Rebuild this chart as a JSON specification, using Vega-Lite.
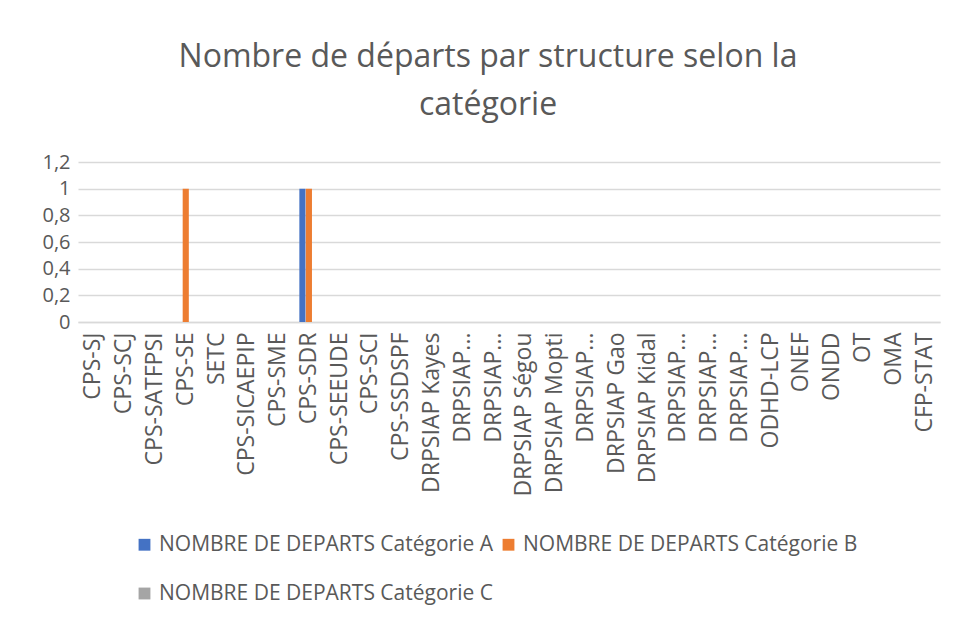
{
  "$schema": "https://vega.github.io/schema/vega-lite/v6.json",
  "width": 862,
  "height": 160,
  "autosize": {"type": "none"},
  "padding": {"left": 78, "top": 162, "right": 16, "bottom": 303},
  "background": "white",
  "config": {
    "font": "Open Sans",
    "view": {"stroke": null}
  },
  "title": {
    "text": ["Nombre de départs par structure selon la", "catégorie"],
    "font": "Open Sans",
    "fontSize": 32,
    "fontWeight": "normal",
    "color": "#595959",
    "lineHeight": 48,
    "anchor": "middle",
    "dx": -21,
    "offset": 30
  },
  "data": {
    "values": [
      {"s": "CPS-SJ", "cat": "NOMBRE DE DEPARTS Catégorie A", "v": 0},
      {"s": "CPS-SJ", "cat": "NOMBRE DE DEPARTS Catégorie B", "v": 0},
      {"s": "CPS-SJ", "cat": "NOMBRE DE DEPARTS Catégorie C", "v": 0},
      {"s": "CPS-SCJ", "cat": "NOMBRE DE DEPARTS Catégorie A", "v": 0},
      {"s": "CPS-SCJ", "cat": "NOMBRE DE DEPARTS Catégorie B", "v": 0},
      {"s": "CPS-SCJ", "cat": "NOMBRE DE DEPARTS Catégorie C", "v": 0},
      {"s": "CPS-SATFPSI", "cat": "NOMBRE DE DEPARTS Catégorie A", "v": 0},
      {"s": "CPS-SATFPSI", "cat": "NOMBRE DE DEPARTS Catégorie B", "v": 0},
      {"s": "CPS-SATFPSI", "cat": "NOMBRE DE DEPARTS Catégorie C", "v": 0},
      {"s": "CPS-SE", "cat": "NOMBRE DE DEPARTS Catégorie A", "v": 0},
      {"s": "CPS-SE", "cat": "NOMBRE DE DEPARTS Catégorie B", "v": 1},
      {"s": "CPS-SE", "cat": "NOMBRE DE DEPARTS Catégorie C", "v": 0},
      {"s": "SETC", "cat": "NOMBRE DE DEPARTS Catégorie A", "v": 0},
      {"s": "SETC", "cat": "NOMBRE DE DEPARTS Catégorie B", "v": 0},
      {"s": "SETC", "cat": "NOMBRE DE DEPARTS Catégorie C", "v": 0},
      {"s": "CPS-SICAEPIP", "cat": "NOMBRE DE DEPARTS Catégorie A", "v": 0},
      {"s": "CPS-SICAEPIP", "cat": "NOMBRE DE DEPARTS Catégorie B", "v": 0},
      {"s": "CPS-SICAEPIP", "cat": "NOMBRE DE DEPARTS Catégorie C", "v": 0},
      {"s": "CPS-SME", "cat": "NOMBRE DE DEPARTS Catégorie A", "v": 0},
      {"s": "CPS-SME", "cat": "NOMBRE DE DEPARTS Catégorie B", "v": 0},
      {"s": "CPS-SME", "cat": "NOMBRE DE DEPARTS Catégorie C", "v": 0},
      {"s": "CPS-SDR", "cat": "NOMBRE DE DEPARTS Catégorie A", "v": 1},
      {"s": "CPS-SDR", "cat": "NOMBRE DE DEPARTS Catégorie B", "v": 1},
      {"s": "CPS-SDR", "cat": "NOMBRE DE DEPARTS Catégorie C", "v": 0},
      {"s": "CPS-SEEUDE", "cat": "NOMBRE DE DEPARTS Catégorie A", "v": 0},
      {"s": "CPS-SEEUDE", "cat": "NOMBRE DE DEPARTS Catégorie B", "v": 0},
      {"s": "CPS-SEEUDE", "cat": "NOMBRE DE DEPARTS Catégorie C", "v": 0},
      {"s": "CPS-SCI", "cat": "NOMBRE DE DEPARTS Catégorie A", "v": 0},
      {"s": "CPS-SCI", "cat": "NOMBRE DE DEPARTS Catégorie B", "v": 0},
      {"s": "CPS-SCI", "cat": "NOMBRE DE DEPARTS Catégorie C", "v": 0},
      {"s": "CPS-SSDSPF", "cat": "NOMBRE DE DEPARTS Catégorie A", "v": 0},
      {"s": "CPS-SSDSPF", "cat": "NOMBRE DE DEPARTS Catégorie B", "v": 0},
      {"s": "CPS-SSDSPF", "cat": "NOMBRE DE DEPARTS Catégorie C", "v": 0},
      {"s": "DRPSIAP Kayes", "cat": "NOMBRE DE DEPARTS Catégorie A", "v": 0},
      {"s": "DRPSIAP Kayes", "cat": "NOMBRE DE DEPARTS Catégorie B", "v": 0},
      {"s": "DRPSIAP Kayes", "cat": "NOMBRE DE DEPARTS Catégorie C", "v": 0},
      {"s": "DRPSIAP Koulikoro", "cat": "NOMBRE DE DEPARTS Catégorie A", "v": 0},
      {"s": "DRPSIAP Koulikoro", "cat": "NOMBRE DE DEPARTS Catégorie B", "v": 0},
      {"s": "DRPSIAP Koulikoro", "cat": "NOMBRE DE DEPARTS Catégorie C", "v": 0},
      {"s": "DRPSIAP Sikasso", "cat": "NOMBRE DE DEPARTS Catégorie A", "v": 0},
      {"s": "DRPSIAP Sikasso", "cat": "NOMBRE DE DEPARTS Catégorie B", "v": 0},
      {"s": "DRPSIAP Sikasso", "cat": "NOMBRE DE DEPARTS Catégorie C", "v": 0},
      {"s": "DRPSIAP Ségou", "cat": "NOMBRE DE DEPARTS Catégorie A", "v": 0},
      {"s": "DRPSIAP Ségou", "cat": "NOMBRE DE DEPARTS Catégorie B", "v": 0},
      {"s": "DRPSIAP Ségou", "cat": "NOMBRE DE DEPARTS Catégorie C", "v": 0},
      {"s": "DRPSIAP Mopti", "cat": "NOMBRE DE DEPARTS Catégorie A", "v": 0},
      {"s": "DRPSIAP Mopti", "cat": "NOMBRE DE DEPARTS Catégorie B", "v": 0},
      {"s": "DRPSIAP Mopti", "cat": "NOMBRE DE DEPARTS Catégorie C", "v": 0},
      {"s": "DRPSIAP Tombouctou", "cat": "NOMBRE DE DEPARTS Catégorie A", "v": 0},
      {"s": "DRPSIAP Tombouctou", "cat": "NOMBRE DE DEPARTS Catégorie B", "v": 0},
      {"s": "DRPSIAP Tombouctou", "cat": "NOMBRE DE DEPARTS Catégorie C", "v": 0},
      {"s": "DRPSIAP Gao", "cat": "NOMBRE DE DEPARTS Catégorie A", "v": 0},
      {"s": "DRPSIAP Gao", "cat": "NOMBRE DE DEPARTS Catégorie B", "v": 0},
      {"s": "DRPSIAP Gao", "cat": "NOMBRE DE DEPARTS Catégorie C", "v": 0},
      {"s": "DRPSIAP Kidal", "cat": "NOMBRE DE DEPARTS Catégorie A", "v": 0},
      {"s": "DRPSIAP Kidal", "cat": "NOMBRE DE DEPARTS Catégorie B", "v": 0},
      {"s": "DRPSIAP Kidal", "cat": "NOMBRE DE DEPARTS Catégorie C", "v": 0},
      {"s": "DRPSIAP Taoudéni", "cat": "NOMBRE DE DEPARTS Catégorie A", "v": 0},
      {"s": "DRPSIAP Taoudéni", "cat": "NOMBRE DE DEPARTS Catégorie B", "v": 0},
      {"s": "DRPSIAP Taoudéni", "cat": "NOMBRE DE DEPARTS Catégorie C", "v": 0},
      {"s": "DRPSIAP Ménaka", "cat": "NOMBRE DE DEPARTS Catégorie A", "v": 0},
      {"s": "DRPSIAP Ménaka", "cat": "NOMBRE DE DEPARTS Catégorie B", "v": 0},
      {"s": "DRPSIAP Ménaka", "cat": "NOMBRE DE DEPARTS Catégorie C", "v": 0},
      {"s": "DRPSIAP Bamako", "cat": "NOMBRE DE DEPARTS Catégorie A", "v": 0},
      {"s": "DRPSIAP Bamako", "cat": "NOMBRE DE DEPARTS Catégorie B", "v": 0},
      {"s": "DRPSIAP Bamako", "cat": "NOMBRE DE DEPARTS Catégorie C", "v": 0},
      {"s": "ODHD-LCP", "cat": "NOMBRE DE DEPARTS Catégorie A", "v": 0},
      {"s": "ODHD-LCP", "cat": "NOMBRE DE DEPARTS Catégorie B", "v": 0},
      {"s": "ODHD-LCP", "cat": "NOMBRE DE DEPARTS Catégorie C", "v": 0},
      {"s": "ONEF", "cat": "NOMBRE DE DEPARTS Catégorie A", "v": 0},
      {"s": "ONEF", "cat": "NOMBRE DE DEPARTS Catégorie B", "v": 0},
      {"s": "ONEF", "cat": "NOMBRE DE DEPARTS Catégorie C", "v": 0},
      {"s": "ONDD", "cat": "NOMBRE DE DEPARTS Catégorie A", "v": 0},
      {"s": "ONDD", "cat": "NOMBRE DE DEPARTS Catégorie B", "v": 0},
      {"s": "ONDD", "cat": "NOMBRE DE DEPARTS Catégorie C", "v": 0},
      {"s": "OT", "cat": "NOMBRE DE DEPARTS Catégorie A", "v": 0},
      {"s": "OT", "cat": "NOMBRE DE DEPARTS Catégorie B", "v": 0},
      {"s": "OT", "cat": "NOMBRE DE DEPARTS Catégorie C", "v": 0},
      {"s": "OMA", "cat": "NOMBRE DE DEPARTS Catégorie A", "v": 0},
      {"s": "OMA", "cat": "NOMBRE DE DEPARTS Catégorie B", "v": 0},
      {"s": "OMA", "cat": "NOMBRE DE DEPARTS Catégorie C", "v": 0},
      {"s": "CFP-STAT", "cat": "NOMBRE DE DEPARTS Catégorie A", "v": 0},
      {"s": "CFP-STAT", "cat": "NOMBRE DE DEPARTS Catégorie B", "v": 0},
      {"s": "CFP-STAT", "cat": "NOMBRE DE DEPARTS Catégorie C", "v": 0}
    ]
  },
  "mark": {"type": "bar"},
  "encoding": {
    "x": {
      "field": "s",
      "type": "nominal",
      "sort": null,
      "scale": {"paddingInner": 0.38, "paddingOuter": 0.19},
      "axis": {
        "title": null,
        "labelAngle": -90,
        "labelFont": "Open Sans",
        "labelFontSize": 23,
        "labelColor": "#595959",
        "labelPadding": 10,
        "labelLimit": 300,
        "labelOverlap": false,
        "ticks": false,
        "domainColor": "#d9d9d9",
        "domainWidth": 1.5,
        "labelExpr": "length(datum.label) > 13 && substring(datum.label, 0, 7) == 'DRPSIAP' ? 'DRPSIAP...' : datum.label"
      }
    },
    "xOffset": {
      "field": "cat",
      "type": "nominal",
      "scale": {"paddingInner": 0.05}
    },
    "y": {
      "field": "v",
      "type": "quantitative",
      "scale": {"domain": [0, 1.2], "nice": false},
      "axis": {
        "title": null,
        "values": [0, 0.2, 0.4, 0.6, 0.8, 1, 1.2],
        "labelExpr": "replace(format(datum.value, '~g'), '.', ',')",
        "labelFont": "Open Sans",
        "labelFontSize": 20,
        "labelColor": "#595959",
        "labelPadding": 8,
        "labelOverlap": false,
        "ticks": false,
        "domain": false,
        "gridColor": "#d9d9d9",
        "gridWidth": 1.5
      }
    },
    "color": {
      "field": "cat",
      "type": "nominal",
      "scale": {
        "domain": ["NOMBRE DE DEPARTS Catégorie A", "NOMBRE DE DEPARTS Catégorie B", "NOMBRE DE DEPARTS Catégorie C"],
        "range": ["#4472c4", "#ed7d31", "#a5a5a5"]
      },
      "legend": {
        "title": null,
        "orient": "none",
        "legendX": 56,
        "legendY": 372,
        "direction": "horizontal",
        "columns": 2,
        "columnPadding": 5,
        "rowPadding": 27,
        "labelOffset": 4,
        "symbolType": "square",
        "symbolSize": 140,
        "symbolStrokeWidth": 0,
        "labelFont": "Open Sans",
        "labelFontSize": 21,
        "labelColor": "#595959",
        "labelLimit": 500
      }
    }
  }
}
